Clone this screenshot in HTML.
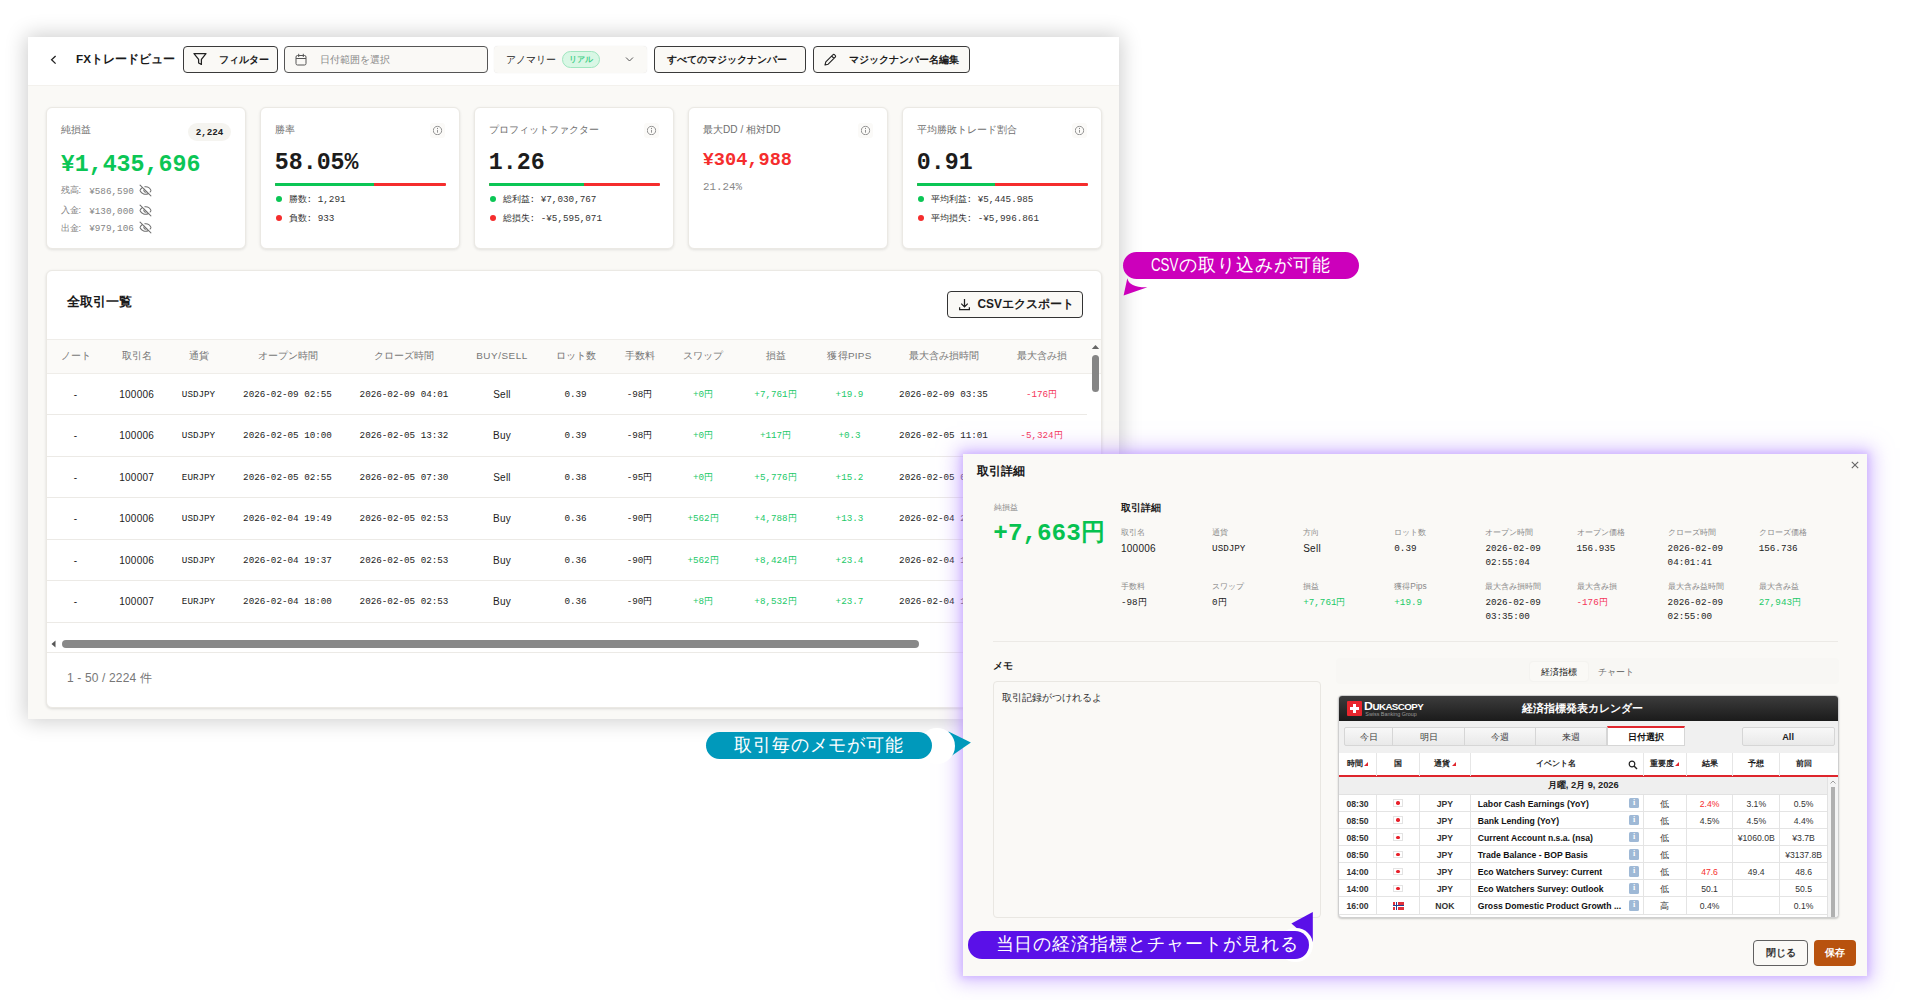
<!DOCTYPE html>
<html lang="ja">
<head>
<meta charset="utf-8">
<title>FX Trade View</title>
<style>
*{box-sizing:border-box;margin:0;padding:0}
html,body{width:1920px;height:1000px;overflow:hidden;background:#fff}
body{font-family:"Liberation Sans",sans-serif;color:#1c1c1c;position:relative}
.mono{font-family:"Liberation Mono",monospace}
.abs{position:absolute}
/* main panel */
#main{position:absolute;left:28px;top:37px;width:1090.8px;height:682px;background:#faf9f6;box-shadow:0 0 20px 2px rgba(0,0,0,.2)}
#hdr{position:absolute;left:0;top:0;width:100%;height:49.4px;background:#fff;border-bottom:1px solid #f3f1ed}
.btn{position:absolute;top:9px;height:27px;border:1px solid #3a3a3a;border-radius:4px;background:#faf9f6;font-size:10px;font-weight:bold;line-height:25px;white-space:nowrap}
.card{position:absolute;top:70px;height:142px;background:#fff;border:1px solid #ebe9e4;border-radius:6px;box-shadow:0 1px 3px rgba(0,0,0,.10)}
.card .lbl{position:absolute;left:14px;top:15px;font-size:10.1px;color:#707070;line-height:14px;white-space:nowrap}
.card .big{position:absolute;left:13.7px;font-weight:bold;font-size:23.3px;line-height:28px;white-space:nowrap;letter-spacing:0}
.info{position:absolute;top:14.5px;right:14px;width:15px;height:15px;background:#fbfaf8;border-radius:3px;padding:2.5px}
.bar{position:absolute;left:14px;top:74.5px;width:171px;height:3px;background:#f52d2d;border-radius:1px;overflow:hidden}
.bar i{display:block;height:100%;background:#0bc655}
.li{position:absolute;left:14px;font-size:9.3px;line-height:12px;color:#333;white-space:nowrap}
.li b{display:inline-block;width:6px;height:6px;border-radius:50%;margin:0 6.5px 0 1px;vertical-align:0px}
.g{color:#0bc655}.r{color:#f52d2d}
.sub{position:absolute;left:13.5px;font-size:9.3px;line-height:12px;color:#848484;white-space:nowrap}

#tp{position:absolute;left:18px;top:233px;width:1056px;height:437.5px;background:#fff;border:1px solid #ebe9e4;border-radius:6px;box-shadow:0 1px 3px rgba(0,0,0,.13);overflow:hidden}
#th{position:absolute;left:0;top:67.7px;width:100%;height:35.2px;background:#fbfaf8;border-top:1px solid #efede9;border-bottom:1px solid #efede9}
.tr{position:absolute;left:0;width:1040px;height:41.55px;border-bottom:1px solid #eceae6}
.c{position:absolute;top:0;width:120px;margin-left:-60px;text-align:center;white-space:nowrap;font-size:10px;letter-spacing:.25px;line-height:42.8px;color:#222}
#th .c{line-height:32px;color:#777;font-size:9.9px;letter-spacing:0}
.tr .m{font-family:"Liberation Mono",monospace;font-size:9.25px;letter-spacing:0;line-height:42.8px}
.c1{left:28.5px}.c2{left:89.7px}.c3{left:151.5px}.c4{left:240.5px}.c5{left:357px}.c6{left:455px}.c7{left:528.5px}.c8{left:592.5px}.c9{left:656px}.c10{left:728.5px}.c11{left:802.5px}.c12{left:896.5px}.c13{left:994.5px}

#modal{position:absolute;left:963px;top:454px;width:904.2px;height:521.6px;background:#faf9f6;box-shadow:0 0 18px 6px rgba(180,140,255,.52),0 0 6px 2px rgba(195,160,255,.45)}
.fl{position:absolute;font-size:8.4px;line-height:11px;color:#8a8a8a;white-space:nowrap}
.fv{position:absolute;font-size:10px;letter-spacing:.25px;line-height:14.3px;color:#222;white-space:nowrap;margin-top:.5px}
.fv.mono{font-size:9.25px;letter-spacing:0;margin-top:.8px}
#cal{position:absolute;left:375.3px;top:241.3px;width:500.8px;height:223px;background:#fff;border:1px solid #cfcfcf;border-radius:4px;overflow:hidden;box-shadow:0 1px 2px rgba(0,0,0,.2);font-size:8px}
.tab{position:absolute;top:30.7px;height:19px;white-space:nowrap;background:linear-gradient(#f8f8f8,#e9e9e9);border:1px solid #d6d6d6;font-size:9.2px;line-height:18.6px;text-align:center;color:#3a3a3a}
.ch{position:absolute;top:56.7px;height:23px;border-right:1px solid #e6e6e6;font-size:8.2px;font-weight:bold;line-height:22px;text-align:center;color:#222;white-space:nowrap}
.cr{position:absolute;left:0;width:487.8px;height:17.15px;border-bottom:1px solid #e4e4e4;font-size:8.65px;line-height:18.4px;white-space:nowrap}
.cr div{position:absolute;top:0;height:100%;border-right:1px solid #e4e4e4;text-align:center;color:#333}
.k1{left:0;width:37.5px;font-weight:bold}.k2{left:37.5px;width:43px}.k3{left:80.5px;width:51px;font-weight:bold}.k4{left:131.5px;width:172.9px;text-align:left!important;padding-left:7px;font-weight:bold;color:#111!important}.k5{left:304.4px;width:43px}.k6{left:347.4px;width:46.7px}.k7{left:394.1px;width:46.7px}.k8{left:440.8px;width:47px;border-right:none!important}
.jp{position:absolute;left:16px;top:4.5px;width:10px;height:7.5px;background:#fff;border:1px solid #e3e3e3}
.jp:after{content:"";position:absolute;left:2.5px;top:1.2px;width:3.4px;height:3.4px;border-radius:50%;background:#e8202a}
.ib{position:absolute;left:158px;top:3px;width:10.5px;height:10.5px;background:#9fb9d6;border-radius:1.5px;color:#fff;font-size:8px;line-height:10.5px;font-weight:bold;font-style:normal;text-align:center;font-family:"Liberation Serif",serif}

.co{position:absolute;height:27px;border-radius:14px;color:#fff;font-size:18px;line-height:27px;text-align:center;white-space:nowrap;letter-spacing:.95px}
.tr .g{color:#22c968}.tr .r{color:#f5365a}
.fv.g{color:#22c968}.fv.r{color:#f5365a}
</style>
</head>
<body>
<div id="main">
 <div id="hdr">
  <svg class="abs" style="left:21px;top:17px" width="10" height="12" viewBox="0 0 10 12"><path d="M6.6 2 L2.6 5.8 L6.6 9.6" fill="none" stroke="#222" stroke-width="1.3"/></svg>
  <div class="abs" id="ttl" style="left:48px;top:13px;font-size:11.7px;font-weight:bold;line-height:18px;white-space:nowrap;color:#1a1a1a">FXトレードビュー</div>
  <div class="btn" style="left:155px;width:95px">
    <svg class="abs" style="left:9px;top:5px" width="14" height="14" viewBox="0 0 14 14"><path d="M1 1.6 H13 L8.4 7.4 V12.4 L5.6 11 V7.4 Z" fill="none" stroke="#222" stroke-width="1.25" stroke-linejoin="round"/></svg>
    <span class="abs" style="left:35px;top:0">フィルター</span>
  </div>
  <div class="btn" style="left:256px;width:204px;border-color:#555;font-weight:normal;color:#888">
    <svg class="abs" style="left:10px;top:6px" width="12" height="13" viewBox="0 0 12 13"><rect x="1" y="2.5" width="10" height="9.5" rx="1.5" fill="none" stroke="#555" stroke-width="1"/><path d="M1 5.5 H11 M3.7 0.8 V4 M8.3 0.8 V4" stroke="#555" stroke-width="1" fill="none"/></svg>
    <span class="abs" style="left:35px;top:0">日付範囲を選択</span>
  </div>
  <div class="abs" style="left:466px;top:9px;width:153px;height:27px;background:#faf9f6;box-shadow:0 0 1px rgba(0,0,0,.15);border-radius:4px;font-size:10px;line-height:27px;white-space:nowrap">
    <span class="abs" style="left:12px;top:0;color:#222">アノマリー</span>
    <span class="abs" style="left:68px;top:5px;width:38px;height:17px;border:1px solid #9fe6bf;background:#d9f7e5;border-radius:9px;color:#45d089;font-size:8px;line-height:15px;text-align:center;font-weight:bold">リアル</span>
    <svg class="abs" style="left:131px;top:10px" width="9" height="7" viewBox="0 0 9 7"><path d="M1 1.5 L4.5 5 L8 1.5" fill="none" stroke="#555" stroke-width="1"/></svg>
  </div>
  <div class="btn" style="left:626px;width:152px"><span class="abs" style="left:12px;top:0">すべてのマジックナンバー</span></div>
  <div class="btn" style="left:785px;width:157px">
    <svg class="abs" style="left:9px;top:6px" width="14" height="14" viewBox="0 0 14 14"><path d="M2 12 L2.8 8.8 L9.8 1.8 a1.3 1.3 0 0 1 1.9 0 l0.5 0.5 a1.3 1.3 0 0 1 0 1.9 L5.2 11.2 Z M8.6 3 L11 5.4" fill="none" stroke="#222" stroke-width="1.1" stroke-linejoin="round"/></svg>
    <span class="abs" style="left:35px;top:0">マジックナンバー名編集</span>
  </div>
 </div>

 <div class="card" style="left:18px;width:200px">
  <div class="lbl">純損益</div>
  <div class="abs mono" style="left:141px;top:14.5px;width:43px;height:18px;border-radius:9px;background:#f5f4f0;font-size:9.2px;font-weight:bold;line-height:20px;text-align:center;color:#222">2,224</div>
  <div class="big mono g" style="top:42.5px">¥1,435,696</div>
  <div class="sub mono" style="top:75.8px"><span style="font-family:'Liberation Sans',sans-serif;margin-right:2.5px">残高:</span> ¥586,590<svg style="display:inline-block;vertical-align:-3.5px;margin-left:5.3px" width="13" height="13" viewBox="0 0 24 24" fill="none" stroke="#707070" stroke-width="1.9" stroke-linecap="round" stroke-linejoin="round"><path d="M10.733 5.076a10.744 10.744 0 0 1 11.205 6.575 1 1 0 0 1 0 .696 10.747 10.747 0 0 1-1.444 2.49"/><path d="M14.084 14.158a3 3 0 0 1-4.242-4.242"/><path d="M17.479 17.499a10.75 10.75 0 0 1-15.417-5.151 1 1 0 0 1 0-.696 10.75 10.75 0 0 1 4.446-5.143"/><path d="m2 2 20 20"/></svg></div>
  <div class="sub mono" style="top:95.8px"><span style="font-family:'Liberation Sans',sans-serif;margin-right:2.5px">入金:</span> ¥130,000<svg style="display:inline-block;vertical-align:-3.5px;margin-left:5.3px" width="13" height="13" viewBox="0 0 24 24" fill="none" stroke="#707070" stroke-width="1.9" stroke-linecap="round" stroke-linejoin="round"><path d="M10.733 5.076a10.744 10.744 0 0 1 11.205 6.575 1 1 0 0 1 0 .696 10.747 10.747 0 0 1-1.444 2.49"/><path d="M14.084 14.158a3 3 0 0 1-4.242-4.242"/><path d="M17.479 17.499a10.75 10.75 0 0 1-15.417-5.151 1 1 0 0 1 0-.696 10.75 10.75 0 0 1 4.446-5.143"/><path d="m2 2 20 20"/></svg></div>
  <div class="sub mono" style="top:113.2px"><span style="font-family:'Liberation Sans',sans-serif;margin-right:2.5px">出金:</span> ¥979,106<svg style="display:inline-block;vertical-align:-3.5px;margin-left:5.3px" width="13" height="13" viewBox="0 0 24 24" fill="none" stroke="#707070" stroke-width="1.9" stroke-linecap="round" stroke-linejoin="round"><path d="M10.733 5.076a10.744 10.744 0 0 1 11.205 6.575 1 1 0 0 1 0 .696 10.747 10.747 0 0 1-1.444 2.49"/><path d="M14.084 14.158a3 3 0 0 1-4.242-4.242"/><path d="M17.479 17.499a10.75 10.75 0 0 1-15.417-5.151 1 1 0 0 1 0-.696 10.75 10.75 0 0 1 4.446-5.143"/><path d="m2 2 20 20"/></svg></div>
 </div>
 <div class="card" style="left:232px;width:200px">
  <div class="lbl">勝率</div><svg class="info" viewBox="0 0 10 10"><circle cx="5" cy="5" r="4.2" fill="none" stroke="#888" stroke-width="0.9"/><path d="M5 4.4 V7.2" stroke="#888" stroke-width="0.9"/><circle cx="5" cy="2.9" r="0.55" fill="#888"/></svg>
  <div class="big mono" style="top:41.4px">58.05%</div>
  <div class="bar"><i style="width:58%"></i></div>
  <div class="li mono" style="top:86px"><b style="background:#0bc655"></b>勝数: 1,291</div>
  <div class="li mono" style="top:104.5px"><b style="background:#f52d2d"></b>負数: 933</div>
 </div>
 <div class="card" style="left:446px;width:200px">
  <div class="lbl">プロフィットファクター</div><svg class="info" viewBox="0 0 10 10"><circle cx="5" cy="5" r="4.2" fill="none" stroke="#888" stroke-width="0.9"/><path d="M5 4.4 V7.2" stroke="#888" stroke-width="0.9"/><circle cx="5" cy="2.9" r="0.55" fill="#888"/></svg>
  <div class="big mono" style="top:41.4px">1.26</div>
  <div class="bar"><i style="width:55.5%"></i></div>
  <div class="li mono" style="top:86px"><b style="background:#0bc655"></b>総利益: ¥7,030,767</div>
  <div class="li mono" style="top:104.5px"><b style="background:#f52d2d"></b>総損失: -¥5,595,071</div>
 </div>
 <div class="card" style="left:660px;width:200px">
  <div class="lbl">最大DD / 相対DD</div><svg class="info" viewBox="0 0 10 10"><circle cx="5" cy="5" r="4.2" fill="none" stroke="#888" stroke-width="0.9"/><path d="M5 4.4 V7.2" stroke="#888" stroke-width="0.9"/><circle cx="5" cy="2.9" r="0.55" fill="#888"/></svg>
  <div class="big mono r" style="top:39px;font-size:18.6px">¥304,988</div>
  <div class="abs mono" style="left:14px;top:72px;font-size:10.8px;line-height:14px;color:#888">21.24%</div>
 </div>
 <div class="card" style="left:874px;width:200px">
  <div class="lbl">平均勝敗トレード割合</div><svg class="info" viewBox="0 0 10 10"><circle cx="5" cy="5" r="4.2" fill="none" stroke="#888" stroke-width="0.9"/><path d="M5 4.4 V7.2" stroke="#888" stroke-width="0.9"/><circle cx="5" cy="2.9" r="0.55" fill="#888"/></svg>
  <div class="big mono" style="top:41.4px">0.91</div>
  <div class="bar"><i style="width:45.5%"></i></div>
  <div class="li mono" style="top:86px"><b style="background:#0bc655"></b>平均利益: ¥5,445.985</div>
  <div class="li mono" style="top:104.5px"><b style="background:#f52d2d"></b>平均損失: -¥5,996.861</div>
 </div>
<div id="tp">
  <div class="abs" style="left:20px;top:21.10px;font-size:13.4px;font-weight:bold;line-height:20px;color:#1a1a1a">全取引一覧</div>
  <div class="btn" style="left:899.5px;top:20.10px;width:136px;font-size:11.9px;border-color:#333;background:#faf9f6">
    <svg class="abs" style="left:10px;top:6px" width="13" height="13" viewBox="0 0 12 12"><path d="M6 1 V8 M3 5.2 L6 8.2 L9 5.2 M1.5 8.5 V10.8 H10.5 V8.5" fill="none" stroke="#222" stroke-width="1.15"/></svg>
    <span class="abs" style="left:30px;top:0">CSVエクスポート</span>
  </div>
  <div id="th">
   <div class="c c1">ノート</div><div class="c c2">取引名</div><div class="c c3">通貨</div><div class="c c4">オープン時間</div><div class="c c5">クローズ時間</div><div class="c c6" style="letter-spacing:.55px">BUY/SELL</div><div class="c c7">ロット数</div><div class="c c8">手数料</div><div class="c c9">スワップ</div><div class="c c10">損益</div><div class="c c11" style="letter-spacing:.3px">獲得PIPS</div><div class="c c12">最大含み損時間</div><div class="c c13">最大含み損</div>
  </div>
  <div class="tr" style="top:102.70px"><div class="c c1">-</div><div class="c c2">100006</div><div class="c c3 m">USDJPY</div><div class="c c4 m">2026-02-09 02:55</div><div class="c c5 m">2026-02-09 04:01</div><div class="c c6">Sell</div><div class="c c7 m">0.39</div><div class="c c8 m">-98円</div><div class="c c9 m g">+0円</div><div class="c c10 m g">+7,761円</div><div class="c c11 m g">+19.9</div><div class="c c12 m">2026-02-09 03:35</div><div class="c c13 m r">-176円</div></div>
  <div class="tr" style="top:144.25px"><div class="c c1">-</div><div class="c c2">100006</div><div class="c c3 m">USDJPY</div><div class="c c4 m">2026-02-05 10:00</div><div class="c c5 m">2026-02-05 13:32</div><div class="c c6">Buy</div><div class="c c7 m">0.39</div><div class="c c8 m">-98円</div><div class="c c9 m g">+0円</div><div class="c c10 m g">+117円</div><div class="c c11 m g">+0.3</div><div class="c c12 m">2026-02-05 11:01</div><div class="c c13 m r">-5,324円</div></div>
  <div class="tr" style="top:185.80px"><div class="c c1">-</div><div class="c c2">100007</div><div class="c c3 m">EURJPY</div><div class="c c4 m">2026-02-05 02:55</div><div class="c c5 m">2026-02-05 07:30</div><div class="c c6">Sell</div><div class="c c7 m">0.38</div><div class="c c8 m">-95円</div><div class="c c9 m g">+0円</div><div class="c c10 m g">+5,776円</div><div class="c c11 m g">+15.2</div><div class="c c12 m">2026-02-05 03:10</div><div class="c c13 m r">-1,204円</div></div>
  <div class="tr" style="top:227.35px"><div class="c c1">-</div><div class="c c2">100006</div><div class="c c3 m">USDJPY</div><div class="c c4 m">2026-02-04 19:49</div><div class="c c5 m">2026-02-05 02:53</div><div class="c c6">Buy</div><div class="c c7 m">0.36</div><div class="c c8 m">-90円</div><div class="c c9 m g">+562円</div><div class="c c10 m g">+4,788円</div><div class="c c11 m g">+13.3</div><div class="c c12 m">2026-02-04 20:15</div><div class="c c13 m r">-2,310円</div></div>
  <div class="tr" style="top:268.90px"><div class="c c1">-</div><div class="c c2">100006</div><div class="c c3 m">USDJPY</div><div class="c c4 m">2026-02-04 19:37</div><div class="c c5 m">2026-02-05 02:53</div><div class="c c6">Buy</div><div class="c c7 m">0.36</div><div class="c c8 m">-90円</div><div class="c c9 m g">+562円</div><div class="c c10 m g">+8,424円</div><div class="c c11 m g">+23.4</div><div class="c c12 m">2026-02-04 19:40</div><div class="c c13 m r">-540円</div></div>
  <div class="tr" style="top:310.45px"><div class="c c1">-</div><div class="c c2">100007</div><div class="c c3 m">EURJPY</div><div class="c c4 m">2026-02-04 18:00</div><div class="c c5 m">2026-02-05 02:53</div><div class="c c6">Buy</div><div class="c c7 m">0.36</div><div class="c c8 m">-90円</div><div class="c c9 m g">+8円</div><div class="c c10 m g">+8,532円</div><div class="c c11 m g">+23.7</div><div class="c c12 m">2026-02-04 18:25</div><div class="c c13 m r">-1,890円</div></div>
  <svg class="abs" style="left:1044px;top:72.60px" width="9" height="6" viewBox="0 0 9 6"><path d="M0.8 5 L4.5 1 L8.2 5 Z" fill="#666"/></svg>
  <div class="abs" style="left:1045px;top:83.60px;width:7px;height:37.5px;border-radius:3.5px;background:#858585"></div>
  <svg class="abs" style="left:4px;top:369.10px" width="5" height="8" viewBox="0 0 5 8"><path d="M4.5 0.5 L0.5 4 L4.5 7.5 Z" fill="#555"/></svg>
  <div class="abs" style="left:14.5px;top:369.40px;width:857px;height:7.7px;border-radius:4px;background:#888"></div>
  <div class="abs" style="left:0;top:380.90px;width:100%;height:1px;background:#eceae6"></div>
  <div class="abs" style="left:20px;top:399.30px;font-size:12px;line-height:16px;letter-spacing:.15px;color:#777">1 - 50 / 2224 件</div>
 </div>

</div>
<div id="modal">
  <div class="abs" style="left:14px;top:8.3px;font-size:12.4px;font-weight:bold;line-height:18px;color:#1a1a1a">取引詳細</div>
  <svg class="abs" style="left:888px;top:7px" width="8" height="8" viewBox="0 0 8 8"><path d="M0.8 0.8 L7.2 7.2 M7.2 0.8 L0.8 7.2" stroke="#666" stroke-width="1.1"/></svg>
  <div class="fl" style="left:30.5px;top:47.5px;font-size:7.9px">純損益</div>
  <div class="abs mono g" style="left:30.3px;top:64.3px;font-size:24.3px;font-weight:bold;line-height:32px;white-space:nowrap;color:#06c250">+7,663円</div>
  <div class="abs" style="left:158px;top:47px;font-size:9.8px;font-weight:bold;line-height:14px;color:#1a1a1a">取引詳細</div>
  <div class="fl" style="left:158.0px;top:73px">取引名</div><div class="fv" style="left:158.0px;top:87px">100006</div>
  <div class="fl" style="left:249.1px;top:73px">通貨</div><div class="fv mono" style="left:249.1px;top:87px">USDJPY</div>
  <div class="fl" style="left:340.2px;top:73px">方向</div><div class="fv" style="left:340.2px;top:87px">Sell</div>
  <div class="fl" style="left:431.3px;top:73px">ロット数</div><div class="fv mono" style="left:431.3px;top:87px">0.39</div>
  <div class="fl" style="left:522.4px;top:73px">オープン時間</div><div class="fv mono" style="left:522.4px;top:87px">2026-02-09<br>02:55:04</div>
  <div class="fl" style="left:613.5px;top:73px">オープン価格</div><div class="fv mono" style="left:613.5px;top:87px">156.935</div>
  <div class="fl" style="left:704.6px;top:73px">クローズ時間</div><div class="fv mono" style="left:704.6px;top:87px">2026-02-09<br>04:01:41</div>
  <div class="fl" style="left:795.7px;top:73px">クローズ価格</div><div class="fv mono" style="left:795.7px;top:87px">156.736</div>
  <div class="fl" style="left:158.0px;top:127px">手数料</div><div class="fv mono" style="left:158.0px;top:141px">-98円</div>
  <div class="fl" style="left:249.1px;top:127px">スワップ</div><div class="fv mono" style="left:249.1px;top:141px">0円</div>
  <div class="fl" style="left:340.2px;top:127px">損益</div><div class="fv mono g" style="left:340.2px;top:141px">+7,761円</div>
  <div class="fl" style="left:431.3px;top:127px">獲得Pips</div><div class="fv mono g" style="left:431.3px;top:141px">+19.9</div>
  <div class="fl" style="left:522.4px;top:127px">最大含み損時間</div><div class="fv mono" style="left:522.4px;top:141px">2026-02-09<br>03:35:00</div>
  <div class="fl" style="left:613.5px;top:127px">最大含み損</div><div class="fv mono r" style="left:613.5px;top:141px">-176円</div>
  <div class="fl" style="left:704.6px;top:127px">最大含み益時間</div><div class="fv mono" style="left:704.6px;top:141px">2026-02-09<br>02:55:00</div>
  <div class="fl" style="left:795.7px;top:127px">最大含み益</div><div class="fv mono g" style="left:795.7px;top:141px">27,943円</div>
  <div class="abs" style="left:30px;top:187px;width:845px;height:1px;background:#eceae6"></div>
  <div class="abs" style="left:30px;top:204.5px;font-size:10px;font-weight:bold;line-height:14px;color:#1a1a1a">メモ</div>
  <div class="abs" style="left:30px;top:226.5px;width:327.5px;height:237px;border:1px solid #e9e7e2;border-radius:4px;background:#faf9f6"></div>
  <div class="abs" style="left:39px;top:236.5px;font-size:9.9px;line-height:13px;color:#333">取引記録がつけれるよ</div>
  <div class="abs" style="left:373px;top:203.5px;width:503px;height:26.5px;background:#f8f7f4;border-radius:4px"></div>
  <div class="abs" style="left:567px;top:207.5px;width:58px;height:19.5px;background:#faf9f6;border-radius:3px;box-shadow:0 0 2px rgba(0,0,0,.07);font-size:8.7px;line-height:21px;text-align:center;color:#151515">経済指標</div>
  <div class="abs" style="left:624px;top:207.5px;width:58px;height:19.5px;font-size:8.7px;line-height:21px;text-align:center;color:#6f6f6f">チャート</div>
  <div id="cal">
   <div class="abs" style="left:0;top:0;width:100%;height:25px;background:linear-gradient(#3c3c3c,#1b1b1b)"></div>
   <div class="abs" style="left:7.7px;top:4.4px;width:15px;height:15.4px;background:#e8262d;border-radius:1px"></div>
   <div class="abs" style="left:13.5px;top:7.4px;width:3.4px;height:9.4px;background:#fff"></div>
   <div class="abs" style="left:10.5px;top:10.4px;width:9.4px;height:3.4px;background:#fff"></div>
   <div class="abs" style="left:25px;top:3.6px;font-size:10.8px;line-height:12px;font-weight:bold;color:#fff;letter-spacing:-.5px;white-space:nowrap;transform:scaleX(1.15);transform-origin:0 50%">D<span style="font-size:8.5px">UKASCOPY</span></div>
   <div class="abs" style="left:26px;top:14.5px;font-size:5.4px;line-height:6px;color:#9a9a9a;white-space:nowrap">Swiss Banking Group</div>
   <div class="abs" style="left:120px;top:4px;width:246px;text-align:center;font-size:10.8px;line-height:16px;font-weight:bold;color:#fff;white-space:nowrap">経済指標発表カレンダー</div>
   <div class="abs" style="left:0;top:25px;width:100%;height:31.7px;background:#f0f0f0"></div>
   <div class="tab" style="left:5px;width:49px;border-radius:2px 0 0 2px">今日</div>
   <div class="tab" style="left:53px;width:72.5px">明日</div>
   <div class="tab" style="left:124.5px;width:72.5px">今週</div>
   <div class="tab" style="left:196px;width:72px">来週</div>
   <div class="tab" style="left:268px;width:78px;top:29.7px;height:20px;background:#fff;border-top:2px solid #e0262d;font-weight:bold;color:#111">日付選択</div>
   <div class="tab" style="left:402.3px;width:93px;border-radius:2px;font-weight:bold;color:#222">All</div>
   <div class="abs" style="left:0;top:79.2px;width:100%;height:1.6px;background:#de252c"></div>
   <div class="abs" style="left:0;top:56.7px;width:100%;height:22.5px;background:#fff"></div>
   <div class="ch" style="left:0;width:37.5px">時間<i style="display:inline-block;width:0;height:0;border-left:4px solid transparent;border-bottom:4px solid #e0262d;margin-left:1.5px;vertical-align:-0.5px"></i></div>
   <div class="ch" style="left:37.5px;width:43px">国</div>
   <div class="ch" style="left:80.5px;width:51px">通貨<i style="display:inline-block;width:0;height:0;border-left:4px solid transparent;border-bottom:4px solid #e0262d;margin-left:1.5px;vertical-align:-0.5px"></i></div>
   <div class="ch" style="left:131.5px;width:172.9px;padding-right:2px">イベント名</div>
   <svg class="abs" style="left:288.5px;top:63.7px" width="10" height="10" viewBox="0 0 10 10"><circle cx="4" cy="4" r="2.8" fill="none" stroke="#222" stroke-width="1.2"/><path d="M6 6 L9 9" stroke="#222" stroke-width="1.4"/></svg>
   <div class="ch" style="left:304.4px;width:43px">重要度<i style="display:inline-block;width:0;height:0;border-left:4px solid transparent;border-bottom:4px solid #e0262d;margin-left:1.5px;vertical-align:-0.5px"></i></div>
   <div class="ch" style="left:347.4px;width:46.7px">結果</div>
   <div class="ch" style="left:394.1px;width:46.7px">予想</div>
   <div class="ch" style="left:440.8px;width:47px;border-right:none">前回</div>
   <div class="abs" style="left:0;top:80.8px;width:487.8px;height:17.5px;background:#efefef;border-bottom:1px solid #e2e2e2;font-size:9.3px;font-weight:bold;line-height:17px;text-align:center;color:#222">月曜, 2月 9, 2026</div>
   <div class="cr" style="top:98.30px"><div class="k1">08:30</div><div class="k2"><i class="jp"></i></div><div class="k3">JPY</div><div class="k4">Labor Cash Earnings (YoY)<em class="ib">i</em></div><div class="k5">低</div><div class="k6"><span class="r">2.4%</span></div><div class="k7">3.1%</div><div class="k8">0.5%</div></div>
   <div class="cr" style="top:115.45px"><div class="k1">08:50</div><div class="k2"><i class="jp"></i></div><div class="k3">JPY</div><div class="k4">Bank Lending (YoY)<em class="ib">i</em></div><div class="k5">低</div><div class="k6">4.5%</div><div class="k7">4.5%</div><div class="k8">4.4%</div></div>
   <div class="cr" style="top:132.60px"><div class="k1">08:50</div><div class="k2"><i class="jp"></i></div><div class="k3">JPY</div><div class="k4">Current Account n.s.a. (nsa)<em class="ib">i</em></div><div class="k5">低</div><div class="k6"></div><div class="k7">¥1060.0B</div><div class="k8">¥3.7B</div></div>
   <div class="cr" style="top:149.75px"><div class="k1">08:50</div><div class="k2"><i class="jp"></i></div><div class="k3">JPY</div><div class="k4">Trade Balance - BOP Basis<em class="ib">i</em></div><div class="k5">低</div><div class="k6"></div><div class="k7"></div><div class="k8">¥3137.8B</div></div>
   <div class="cr" style="top:166.90px"><div class="k1">14:00</div><div class="k2"><i class="jp"></i></div><div class="k3">JPY</div><div class="k4">Eco Watchers Survey: Current<em class="ib">i</em></div><div class="k5">低</div><div class="k6"><span class="r">47.6</span></div><div class="k7">49.4</div><div class="k8">48.6</div></div>
   <div class="cr" style="top:184.05px"><div class="k1">14:00</div><div class="k2"><i class="jp"></i></div><div class="k3">JPY</div><div class="k4">Eco Watchers Survey: Outlook<em class="ib">i</em></div><div class="k5">低</div><div class="k6">50.1</div><div class="k7"></div><div class="k8">50.5</div></div>
   <div class="cr" style="top:201.20px"><div class="k1">16:00</div><div class="k2"><i class="abs" style="left:16px;top:4.5px;width:11px;height:8px;background:#e0303a"></i><i class="abs" style="left:16px;top:7.3px;width:11px;height:2.4px;background:#fff"></i><i class="abs" style="left:18.6px;top:4.5px;width:2.4px;height:8px;background:#fff"></i><i class="abs" style="left:16px;top:8px;width:11px;height:1px;background:#23408f"></i><i class="abs" style="left:19.3px;top:4.5px;width:1px;height:8px;background:#23408f"></i></div><div class="k3">NOK</div><div class="k4">Gross Domestic Product Growth ...<em class="ib">i</em></div><div class="k5">高</div><div class="k6">0.4%</div><div class="k7"></div><div class="k8">0.1%</div></div>
   <div class="abs" style="left:487.8px;top:80.8px;width:12px;height:142px;background:#f4f4f4;border-left:1px solid #e2e2e2"></div>
   <div class="abs" style="left:491.5px;top:90.5px;width:4.4px;height:130px;background:#b0b0b0"></div>
   <svg class="abs" style="left:490.7px;top:83.5px" width="6" height="4" viewBox="0 0 6 4"><path d="M0.5 3.5 L3 1 L5.5 3.5" fill="none" stroke="#888" stroke-width="0.8"/></svg>
  </div>
  <div class="abs" style="left:790.3px;top:486.2px;width:54.6px;height:25.8px;border:1.3px solid #606060;border-radius:4px;background:#faf9f6;font-size:9.8px;font-weight:bold;line-height:23.6px;text-align:center;color:#333">閉じる</div>
  <div class="abs" style="left:850.5px;top:486.2px;width:42.6px;height:25.8px;border-radius:4px;background:#b8520e;font-size:9.8px;font-weight:bold;line-height:26.2px;text-align:center;color:#fff">保存</div>
</div>
<div class="co" style="left:1123px;top:252px;width:235.5px;background:#cc00bb"><span style="display:inline-block;width:28px;transform:scaleX(.74);transform-origin:0 50%;letter-spacing:0;text-align:left">CSV</span>の取り込みが可能</div>
<svg class="abs" style="left:1120px;top:275px" width="32" height="24" viewBox="0 0 32 24"><path d="M7.3 3.2 C8.5 9.5 16 12.6 27.4 12.2 L3.6 20.4 Z" fill="#cc00bb"/></svg>
<svg class="abs" style="left:945px;top:728px" width="30" height="34" viewBox="0 0 30 34"><path d="M3.5 3.4 L25.9 14.4 L3.5 30 Z" fill="#0099bb"/></svg>
<div class="abs" style="left:918.8px;top:727.5px;width:36px;height:36px;border-radius:50%;background:#fff"></div>
<div class="co" style="left:706px;top:732px;width:226px;background:#0099bb">取引毎のメモが可能</div>
<svg class="abs" style="left:1285px;top:906px" width="32" height="40" viewBox="0 0 32 40"><path d="M27.8 5.9 V36 L6.4 17.4 Z" fill="#5a10e8"/></svg>
<div class="abs" style="left:1278px;top:927.5px;width:34.8px;height:34.8px;border-radius:50%;background:#fff"></div>
<div class="co" style="left:968px;top:931px;width:341.2px;height:27.8px;line-height:27.8px;background:#5a10e8;text-align:left;padding-left:27.5px">当日の経済指標とチャートが見れる</div>
</body>
</html>
